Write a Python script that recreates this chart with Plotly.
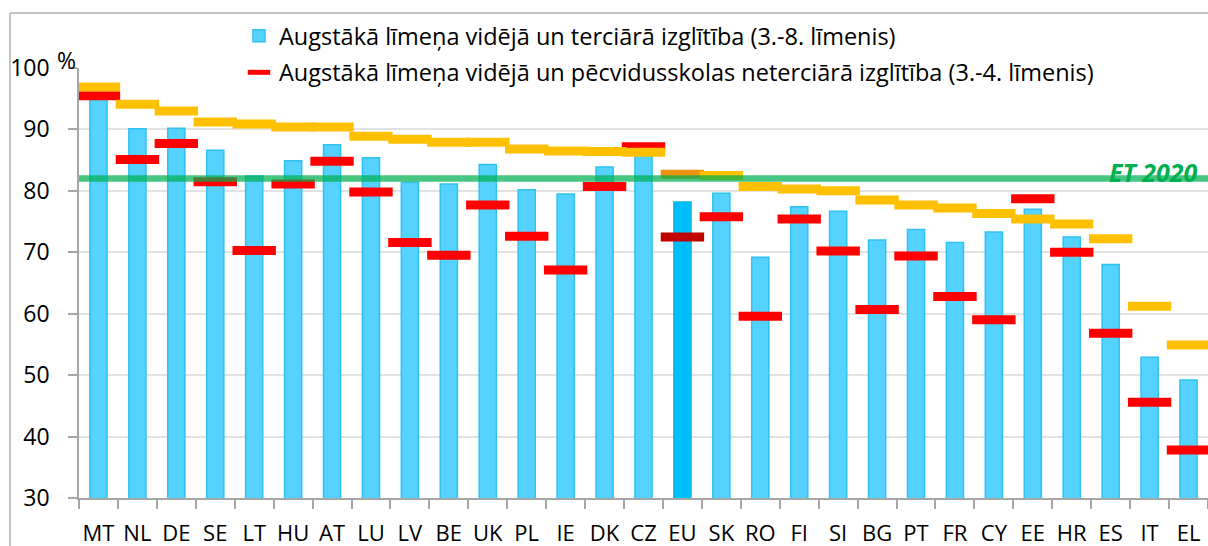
import plotly.graph_objects as go

categories = ["MT", "NL", "DE", "SE", "LT", "HU", "AT", "LU", "LV", "BE", "UK", "PL", "IE", "DK",
              "CZ", "EU", "SK", "RO", "FI", "SI", "BG", "PT", "FR", "CY", "EE", "HR", "ES", "IT", "EL"]

tertiary_3_8 = [95.7, 90.1, 90.2, 86.6, 82.4, 84.9, 87.5, 85.4, 81.4, 81.1, 84.3, 80.2, 79.5, 83.9,
                86.0, 78.2, 79.6, 69.2, 77.4, 76.7, 72.0, 73.7, 71.6, 73.3, 77.0, 72.5, 68.0, 52.9, 49.2]

secondary_3_4 = [95.5, 85.1, 87.7, 81.5, 70.3, 81.1, 84.8, 79.8, 71.6, 69.5, 77.7, 72.6, 67.1, 80.7,
                 87.2, 72.5, 75.8, 59.6, 75.4, 70.2, 60.7, 69.4, 62.8, 59.0, 78.7, 70.0, 56.8, 45.6, 37.8]

other_series = [96.9, 94.1, 93.0, 91.2, 90.9, 90.4, 90.4, 88.9, 88.4, 87.9, 87.9, 86.8, 86.5, 86.4,
                86.3, 82.7, 82.5, 80.7, 80.3, 80.0, 78.5, 77.7, 77.2, 76.3, 75.4, 74.6, 72.2, 61.2, 54.9]

tick_values = [30, 40, 50, 60, 70, 80, 90, 100]
tick_labels = ["30", "40", "50", "60", "70", "80", "90", "100"]

target_value = 82
target_label = "ET 2020"

name_bar = "Augstākā līmeņa vidējā un terciārā izglītība (3.-8. līmenis)"
name_red = "Augstākā līmeņa vidējā un pēcvidusskolas neterciārā izglītība (3.-4. līmenis)"

FONT = "Open Sans"

bar_colors = ["#00BFFF" if c == "EU" else "#55D2FF" for c in categories]
bar_line_colors = ["#10B4EA" if c == "EU" else "#2EC2F2" for c in categories]
red_colors = ["#C00000" if c == "EU" else "#FF0000" for c in categories]
yellow_colors = ["#EE9310" if c == "EU" else "#FFC000" for c in categories]

fig = go.Figure()

fig.add_trace(go.Bar(
    x=categories, y=tertiary_3_8, width=0.44, name=name_bar, legendgroup="a",
    marker=dict(color=bar_colors, line=dict(color=bar_line_colors, width=1.5)),
))

fig.add_trace(go.Scatter(
    x=categories, y=secondary_3_4, mode="markers", name=name_red, legendgroup="b",
    marker=dict(symbol="line-ew", size=31, color=red_colors,
                line=dict(width=9, color=red_colors)),
))

fig.add_trace(go.Scatter(
    x=categories, y=other_series, mode="markers", showlegend=False, name="",
    marker=dict(symbol="line-ew", size=31, color=yellow_colors,
                line=dict(width=9, color=yellow_colors)),
))

PL, PR, PT, PB = 79, 0, 68, 48
W, H = 1208, 546
pw, ph = W - PL - PR, H - PT - PB

def px_x(p):
    return (p - PL) / pw

def px_y(p):
    return (H - PB - p) / ph

shapes = [
    # hide the 100 gridline behind the legend area
    dict(type="rect", xref="paper", yref="y", x0=px_x(130), x1=1.01, y0=99.4, y1=100.6,
         fillcolor="white", line=dict(width=0), layer="between"),
    # target line
    dict(type="line", xref="paper", yref="y", x0=px_x(79), x1=1, y0=target_value, y1=target_value,
         line=dict(color="rgba(0,176,80,0.72)", width=6.5), layer="above"),
    # outer frame
    dict(type="line", xref="paper", yref="paper", x0=px_x(10), x1=px_x(10), y0=px_y(546), y1=px_y(13),
         line=dict(color="#B0B0B0", width=1.5)),
    dict(type="line", xref="paper", yref="paper", x0=px_x(10), x1=px_x(1210), y0=px_y(13), y1=px_y(13),
         line=dict(color="#B0B0B0", width=1.5)),
]

annotations = [
    dict(text="%", xref="paper", yref="paper", x=px_x(66), y=px_y(60), showarrow=False,
         font=dict(family=FONT, size=23, color="#000000"), xanchor="center", yanchor="middle"),
    dict(text="<b><i>" + target_label + "</i></b>", xref="paper", yref="y", x=px_x(1200),
         y=target_value + 1.0, showarrow=False, xanchor="right", yanchor="middle",
         font=dict(family=FONT, size=25, color="#00B050")),
]

fig.update_layout(
    width=W, height=H,
    margin=dict(l=PL, r=PR, t=PT, b=PB, pad=0),
    paper_bgcolor="white", plot_bgcolor="white",
    font=dict(family=FONT, size=23.5, color="#000000"),
    bargap=0.5,
    showlegend=True,
    legend=dict(x=px_x(239), y=px_y(14), xanchor="left", yanchor="top",
                bgcolor="rgba(0,0,0,0)", borderwidth=0,
                font=dict(family=FONT, size=23.5, color="#000000"),
                traceorder="grouped", tracegroupgap=3),
    shapes=shapes,
    annotations=annotations,
    xaxis=dict(
        type="category", range=[-0.5, len(categories) - 0.5],
        showline=True, linecolor="#A6A6A6", linewidth=1.5,
        ticks="outside", tickson="boundaries", ticklen=9, tickcolor="#A6A6A6", tickwidth=1.5,
        tickfont=dict(family=FONT, size=22, color="#000000"), tickangle=0,
        showgrid=False, ticklabelstandoff=15,
    ),
    yaxis=dict(
        range=[30, 100], tickmode="array", tickvals=tick_values, ticktext=tick_labels,
        showline=True, linecolor="#A6A6A6", linewidth=1.5,
        ticks="outside", ticklen=9, tickcolor="#A6A6A6", tickwidth=1.5,
        tickfont=dict(family=FONT, size=23, color="#000000"),
        showgrid=True, gridcolor="#E2E2E2", gridwidth=1.5, zeroline=False,
        ticklabelstandoff=14,
    ),
)

fig.write_html("out.html", config={"displayModeBar": False},
               post_script="document.body.style.margin='0';document.body.style.overflow='hidden';")
